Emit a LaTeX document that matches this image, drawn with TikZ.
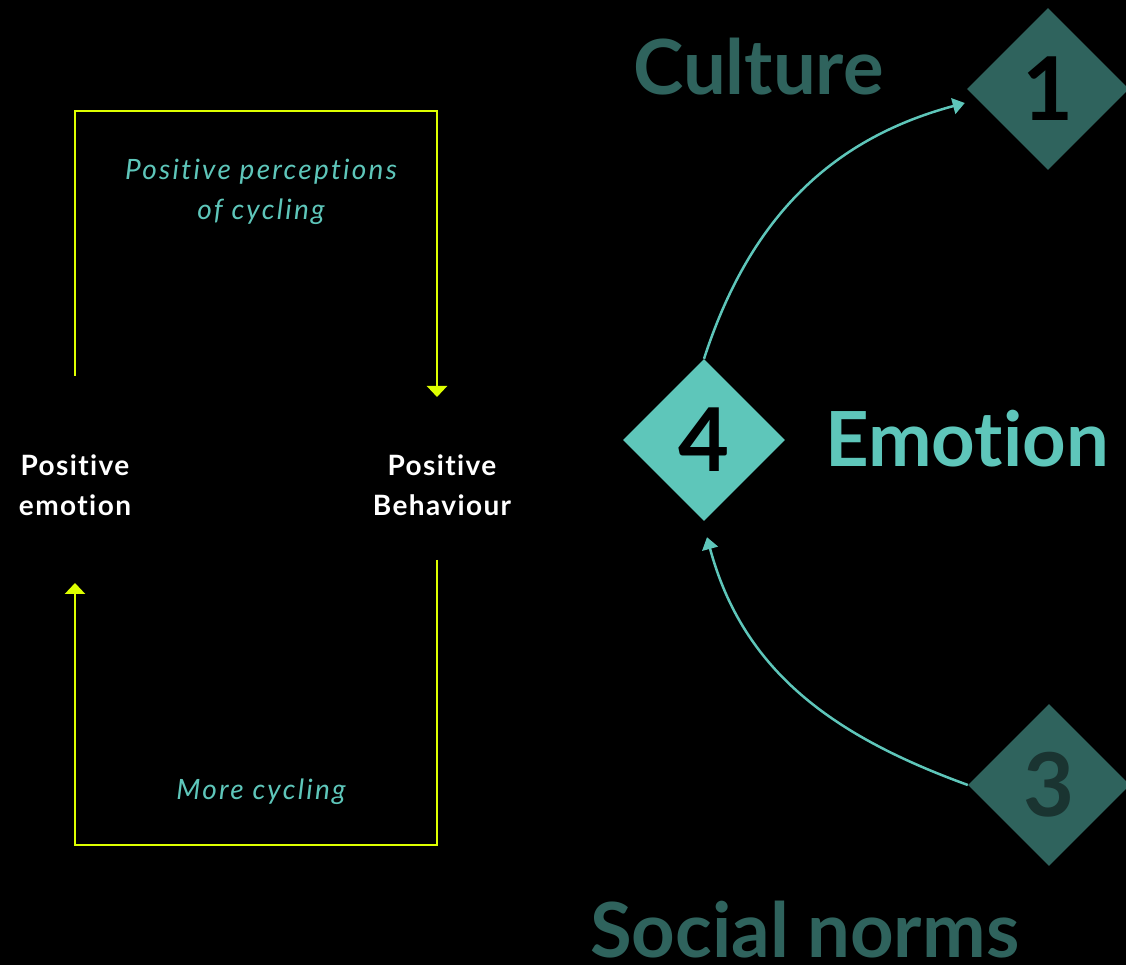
\documentclass[tikz,border=0pt]{standalone}
\usepackage{fontspec}
\setmainfont{Lato}[Ligatures={NoCommon}]
\usetikzlibrary{positioning,calc,arrows.meta,shapes.geometric}
\definecolor{loopyellow}{RGB}{222,255,0}
\definecolor{tealA}{RGB}{94,198,186}
\definecolor{tealB}{RGB}{47,99,93}
\definecolor{tealC}{RGB}{26,52,49}

\begin{document}
\begin{tikzpicture}[
    x=1pt, y=1pt,
    loop/.style={draw=loopyellow, line width=2.5pt,
                 -{Triangle[width=20pt,length=11pt]}},
    lbl/.style={font=\fontsize{28}{40}\selectfont\bfseries\addfontfeature{LetterSpace=5},
                text=white, align=center, inner sep=0pt},
    note/.style={font=\fontsize{28}{40}\selectfont\itshape\addfontfeature{LetterSpace=8},
                 text=tealA, align=center, inner sep=0pt},
    gem/.style={diamond, aspect=1, minimum size=162pt, inner sep=0pt,
                font=\fontsize{88}{88}\selectfont\bfseries},
    big/.style={font=\fontsize{76}{76}\selectfont\bfseries, inner sep=0pt,
                anchor=base west},
    link/.style={draw=tealA, line width=2.5pt,
                 -{Triangle[width=16pt,length=12pt]}},
  ]
    \useasboundingbox (0,0) rectangle (1126,965);
    \fill[black] (0,0) rectangle (1126,965);

    % feedback loop
    \node[lbl] (emo) at (75,480)  {Positive\\emotion};
    \node[lbl] (beh) at (442,480) {Positive\\Behaviour};
    \node[note] (perc) at (261,773) {Positive perceptions\\of cycling};
    \node[note] (more) at (261,173) {More cycling};
    \draw[loop] ($(emo.center)+(0,109)$) |- ($(beh.center)+(-5,374)$)
      -- ($(beh.center)+(-5,88)$);
    \draw[loop] ($(beh.center)+(-5,-75)$) |- ($(emo.center)+(0,-360)$)
      -- ($(emo.center)+(0,-98)$);

    % diamonds
    \node[gem, fill=tealA, text=black] (d4) at (704,525) {4};
    \node[gem, fill=tealB, text=black] (d1) at (1048,876) {1};
    \node[gem, fill=tealB, text=tealC] (d3) at (1049,180) {3};
    \node[big, text=tealB] (cul) at (633,870) {Culture};
    \node[big, text=tealA] (emt) at (825,498) {Emotion};
    \node[big, text=tealB] (soc) at (590,7) {Social norms};

    \draw[link] (d4.north) to[out=72, in=195] ($(d1.west)+(-2,-14)$);
    \draw[link] (d3.west) to[out=160, in=-75] ($(d4.south)+(3,-16)$);
\end{tikzpicture}
\end{document}
